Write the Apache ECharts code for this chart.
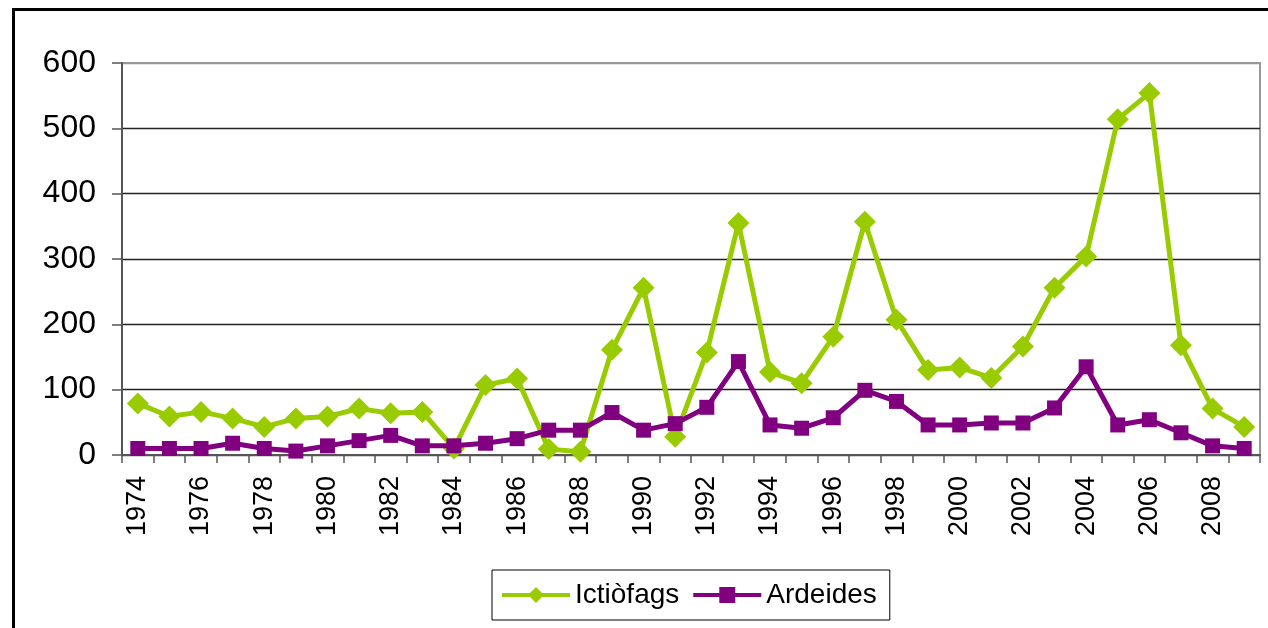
<!DOCTYPE html>
<html>
<head>
<meta charset="utf-8">
<script src="https://cdn.jsdelivr.net/npm/echarts@6/dist/echarts.min.js"></script>
<style>html,body{margin:0;padding:0;background:#fff}#c{width:1268px;height:628px}</style>
</head>
<body>
<div id="c"></div>
<script>
var years = ['1974','1975','1976','1977','1978','1979','1980','1981','1982','1983','1984','1985','1986','1987','1988','1989','1990','1991','1992','1993','1994','1995','1996','1997','1998','1999','2000','2001','2002','2003','2004','2005','2006','2007','2008','2009'];
var ictiofags = [79,59,66,56,43,56,59,71,64,66,10,107,117,9,5,161,256,28,157,355,127,110,181,357,207,130,134,118,166,256,304,514,554,168,71,43];
var ardeides = [10,10,10,18,10,6,14,22,30,14,14,18,25,38,38,65,38,48,73,143,46,41,57,99,82,46,46,49,49,72,135,46,54,34,14,10];
var yTicks = [0,100,200,300,400,500,600];

var font = '"Liberation Sans", Arial, sans-serif';
var chart = echarts.init(document.getElementById('c'), null, {renderer:'canvas'});
chart.setOption({
  animation:false,
  backgroundColor:'#fff',
  graphic:[{type:'rect',shape:{x:13.5,y:9.5,width:1400,height:800},style:{fill:null,stroke:'#000',lineWidth:3},silent:true,z:-1}],
  grid:{left:122,right:8,top:63,bottom:173,show:true,borderColor:'#999',borderWidth:2,backgroundColor:'transparent'},
  legend:{
    left:492, top:570,
    padding:[11,13,11,8],
    itemGap:12, itemWidth:68, itemHeight:20,
    borderColor:'#000', borderWidth:1,
    lineStyle:{width:4},
    textStyle:{fontFamily:font,fontSize:28,color:'#000',padding:[0,0,0,0]},
    data:['Ictiòfags','Ardeides']
  },
  xAxis:{
    type:'category', data:years, boundaryGap:true,
    axisLine:{lineStyle:{color:'#555',width:2}},
    axisTick:{show:true,interval:0,length:8,lineStyle:{color:'#555',width:1.5}},
    axisLabel:{interval:1,rotate:90,margin:21,fontFamily:font,fontSize:27,color:'#000'},
    splitLine:{show:false}
  },
  yAxis:{
    type:'value', min:yTicks[0], max:yTicks[yTicks.length-1], interval:100,
    axisLine:{show:true,lineStyle:{color:'#555',width:2}},
    axisTick:{show:true,length:10,lineStyle:{color:'#555',width:1.5}},
    axisLabel:{margin:26,fontFamily:font,fontSize:32,color:'#000'},
    splitLine:{show:true,lineStyle:{color:['#555','#222','#222','#222','#222','#222','#999'],width:1.3}}
  },
  series:[
    {name:'Ictiòfags',type:'line',data:ictiofags,symbol:'diamond',symbolSize:22,showAllSymbol:true,
     lineStyle:{color:'#99CC00',width:5},itemStyle:{color:'#99CC00'},z:2},
    {name:'Ardeides',type:'line',data:ardeides,symbol:'rect',symbolSize:15,showAllSymbol:true,
     lineStyle:{color:'#800080',width:5},itemStyle:{color:'#800080'},z:3}
  ]
});
</script>
</body>
</html>
